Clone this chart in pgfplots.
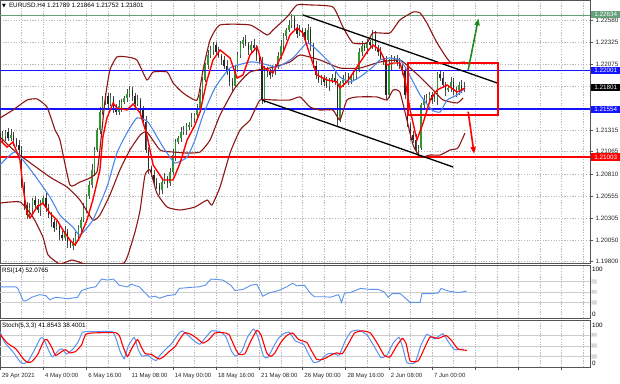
\documentclass[border=0pt]{standalone}
\usepackage{pgfplots}
\pgfplotsset{compat=1.18}
\usepackage{pgfplotstable}
\usepackage{fontspec}
\setmainfont{Liberation Sans}
\newfontfamily\symfont{DejaVu Sans}
\usetikzlibrary{arrows.meta}

\definecolor{bandred}{RGB}{140,22,22}
\definecolor{mablue}{RGB}{75,135,235}
\definecolor{rsiblue}{RGB}{90,145,235}
\definecolor{upgreen}{RGB}{50,150,50}
\definecolor{wickc}{RGB}{75,75,75}
\definecolor{gridc}{RGB}{185,185,185}
\definecolor{lvlgreen}{RGB}{100,160,120}
\definecolor{lvlblue}{RGB}{20,20,255}
\definecolor{framec}{RGB}{85,85,85}
\definecolor{lvlgray}{RGB}{205,205,205}
\definecolor{arrgreen}{RGB}{30,140,30}

\newcommand{\fs}{\fontsize{6.3}{7}\selectfont}

% bar index, open, high, low, close -- bullish candles
\pgfplotstableread{
b o h l c
1 1.21200 1.21303 1.21177 1.21246
2 1.21246 1.21315 1.21188 1.21292
4 1.21223 1.21326 1.21188 1.21257
11 1.20337 1.20475 1.20314 1.20418
12 1.20418 1.20533 1.20360 1.20510
15 1.20395 1.20510 1.20326 1.20475
16 1.20475 1.20556 1.20452 1.20533
21 1.20188 1.20268 1.20165 1.20211
24 1.20073 1.20211 1.20038 1.20142
27 1.19981 1.20073 1.19935 1.20015
28 1.20015 1.20142 1.19981 1.20096
29 1.20096 1.20222 1.20038 1.20188
30 1.20188 1.20314 1.20142 1.20280
31 1.20280 1.20475 1.20257 1.20418
32 1.20418 1.20579 1.20360 1.20556
33 1.20556 1.20728 1.20521 1.20682
34 1.20682 1.20924 1.20648 1.20855
35 1.20855 1.21119 1.20786 1.21085
36 1.21085 1.21338 1.21062 1.21315
37 1.21315 1.21579 1.21269 1.21522
38 1.21522 1.21706 1.21487 1.21660
39 1.21660 1.21741 1.21602 1.21706
41 1.21614 1.21741 1.21591 1.21683
44 1.21522 1.21660 1.21487 1.21591
45 1.21591 1.21672 1.21522 1.21637
46 1.21637 1.21706 1.21614 1.21683
47 1.21683 1.21787 1.21637 1.21729
48 1.21729 1.21821 1.21695 1.21775
51 1.21614 1.21718 1.21591 1.21660
60 1.20625 1.20751 1.20579 1.20717
61 1.20717 1.20820 1.20694 1.20763
63 1.20705 1.20878 1.20671 1.20832
64 1.20832 1.21096 1.20797 1.21027
65 1.21027 1.21212 1.20958 1.21177
66 1.21177 1.21246 1.21154 1.21223
67 1.21223 1.21349 1.21177 1.21292
68 1.21292 1.21361 1.21257 1.21315
69 1.21315 1.21395 1.21257 1.21361
70 1.21361 1.21407 1.21315 1.21372
71 1.21372 1.21510 1.21349 1.21453
72 1.21453 1.21510 1.21395 1.21487
73 1.21487 1.21614 1.21453 1.21568
74 1.21568 1.21787 1.21533 1.21718
75 1.21718 1.21925 1.21648 1.21890
76 1.21890 1.22086 1.21867 1.22063
77 1.22063 1.22235 1.22017 1.22178
78 1.22178 1.22281 1.22143 1.22235
79 1.22235 1.22327 1.22178 1.22293
87 1.21821 1.22051 1.21798 1.22005
88 1.22005 1.22212 1.21982 1.22178
89 1.22178 1.22339 1.22143 1.22304
90 1.22304 1.22385 1.22258 1.22350
93 1.22235 1.22339 1.22201 1.22293
98 1.21660 1.22051 1.21626 1.22005
101 1.21948 1.22063 1.21925 1.22005
102 1.22005 1.22074 1.21948 1.22051
103 1.22051 1.22212 1.22017 1.22166
104 1.22166 1.22350 1.22132 1.22281
105 1.22281 1.22431 1.22224 1.22396
106 1.22396 1.22488 1.22350 1.22465
107 1.22465 1.22580 1.22442 1.22523
108 1.22523 1.22649 1.22488 1.22603
111 1.22419 1.22523 1.22396 1.22465
114 1.22350 1.22534 1.22316 1.22465
119 1.21890 1.21948 1.21833 1.21913
122 1.21821 1.21913 1.21764 1.21890
123 1.21890 1.21959 1.21856 1.21913
126 1.21430 1.21879 1.21407 1.21856
127 1.21856 1.21948 1.21810 1.21890
128 1.21890 1.21982 1.21856 1.21936
130 1.21890 1.21959 1.21844 1.21913
131 1.21913 1.22005 1.21890 1.21948
132 1.21948 1.22028 1.21890 1.22005
133 1.22005 1.22258 1.21982 1.22212
134 1.22212 1.22339 1.22166 1.22281
136 1.22258 1.22362 1.22189 1.22327
138 1.22293 1.22465 1.22247 1.22408
144 1.21718 1.22132 1.21683 1.22063
145 1.22063 1.22178 1.21994 1.22143
155 1.21085 1.21142 1.21004 1.21108
156 1.21108 1.21626 1.21085 1.21602
157 1.21602 1.21718 1.21556 1.21660
158 1.21660 1.21729 1.21626 1.21683
159 1.21683 1.21752 1.21626 1.21718
161 1.21660 1.21718 1.21637 1.21672
162 1.21672 1.21982 1.21602 1.21959
166 1.21775 1.21821 1.21752 1.21798
167 1.21798 1.21925 1.21752 1.21867
169 1.21752 1.21810 1.21695 1.21775
170 1.21775 1.21867 1.21718 1.21833
172 1.21789 1.21864 1.21752 1.21801
}\upc

% bearish candles
\pgfplotstableread{
b o h l c
0 1.21280 1.21315 1.21154 1.21200
3 1.21292 1.21338 1.21188 1.21223
5 1.21257 1.21292 1.21131 1.21200
6 1.21200 1.21223 1.21119 1.21142
7 1.21142 1.21200 1.21039 1.21085
8 1.21085 1.21131 1.20648 1.20682
9 1.20682 1.20717 1.20395 1.20452
10 1.20452 1.20487 1.20291 1.20337
13 1.20510 1.20556 1.20418 1.20452
14 1.20452 1.20521 1.20360 1.20395
17 1.20533 1.20590 1.20372 1.20418
18 1.20418 1.20464 1.20303 1.20337
19 1.20337 1.20372 1.20199 1.20257
20 1.20257 1.20291 1.20142 1.20188
22 1.20211 1.20234 1.20050 1.20107
23 1.20107 1.20153 1.20038 1.20073
25 1.20142 1.20176 1.19958 1.20027
26 1.20027 1.20050 1.19958 1.19981
40 1.21706 1.21741 1.21568 1.21614
42 1.21683 1.21706 1.21510 1.21568
43 1.21568 1.21614 1.21487 1.21522
49 1.21775 1.21810 1.21648 1.21706
50 1.21706 1.21741 1.21568 1.21614
52 1.21660 1.21683 1.21487 1.21545
53 1.21545 1.21591 1.21372 1.21407
54 1.21407 1.21476 1.21050 1.21085
55 1.21085 1.21119 1.20809 1.20878
56 1.20878 1.20901 1.20774 1.20797
57 1.20797 1.20855 1.20671 1.20717
58 1.20717 1.20763 1.20636 1.20671
59 1.20671 1.20705 1.20567 1.20625
62 1.20763 1.20786 1.20648 1.20705
80 1.22293 1.22327 1.22166 1.22212
81 1.22212 1.22270 1.22143 1.22166
82 1.22166 1.22189 1.22063 1.22120
83 1.22120 1.22166 1.22017 1.22051
84 1.22051 1.22120 1.21948 1.21982
85 1.21982 1.22028 1.21821 1.21867
86 1.21867 1.21913 1.21752 1.21821
91 1.22350 1.22408 1.22281 1.22304
92 1.22304 1.22327 1.22178 1.22235
94 1.22293 1.22362 1.22224 1.22258
95 1.22258 1.22293 1.22109 1.22178
96 1.22178 1.22201 1.22074 1.22097
97 1.22097 1.22155 1.21614 1.21660
99 1.22005 1.22040 1.21925 1.21982
100 1.21982 1.22017 1.21902 1.21948
109 1.22603 1.22638 1.22454 1.22488
110 1.22488 1.22534 1.22373 1.22419
112 1.22465 1.22488 1.22385 1.22442
113 1.22442 1.22488 1.22316 1.22350
115 1.22465 1.22500 1.22224 1.22293
116 1.22293 1.22316 1.22028 1.22051
117 1.22051 1.22109 1.21902 1.21948
118 1.21948 1.21994 1.21856 1.21890
120 1.21913 1.21948 1.21821 1.21867
121 1.21867 1.21925 1.21798 1.21821
124 1.21913 1.21982 1.21833 1.21867
125 1.21867 1.21902 1.21361 1.21430
129 1.21936 1.21971 1.21833 1.21890
135 1.22281 1.22316 1.22224 1.22258
137 1.22327 1.22350 1.22270 1.22293
139 1.22408 1.22454 1.22224 1.22258
140 1.22258 1.22293 1.22166 1.22212
141 1.22212 1.22270 1.22120 1.22143
142 1.22143 1.22166 1.22063 1.22120
143 1.22120 1.22166 1.21660 1.21718
146 1.22143 1.22166 1.22097 1.22120
147 1.22120 1.22178 1.22051 1.22097
148 1.22097 1.22143 1.22017 1.22051
149 1.22051 1.22086 1.21948 1.22005
150 1.22005 1.22040 1.21672 1.21718
151 1.21718 1.21775 1.21349 1.21372
152 1.21372 1.21395 1.21200 1.21257
153 1.21257 1.21303 1.21165 1.21200
154 1.21200 1.21269 1.21050 1.21085
160 1.21718 1.21752 1.21614 1.21660
163 1.21959 1.22005 1.21879 1.21913
164 1.21913 1.21982 1.21798 1.21833
165 1.21833 1.21867 1.21706 1.21775
168 1.21867 1.21913 1.21718 1.21752
171 1.21833 1.21890 1.21741 1.21787
}\dnc

\pgfplotsset{
  mtpanel/.style={
    scale only axis, width=590pt, xmin=0, xmax=218.52,
    axis line style={draw=framec, line width=1pt},
    xtick={0,16,...,208}, minor xtick={8,24,...,216},
    xmajorgrids, xminorgrids,
    major grid style={draw=gridc, line width=0.5pt, dash pattern=on 1.2pt off 1.5pt},
    minor grid style={draw=gridc, line width=0.5pt, dash pattern=on 1.2pt off 1.5pt},
    ticklabel style={font=\fs, text=black!85},
    tick align=outside, major tick length=3pt, minor tick length=0pt,
    tick style={draw=framec, line width=0.5pt},
  },
  wick/.style={draw=none, mark=none, forget plot, error bars/.cd, y dir=both, y explicit, error mark=none,
    error bar style={draw=wickc, line width=0.55pt}},
}

\begin{document}
\begin{tikzpicture}
\path[use as bounding box] (0pt,0pt) rectangle (620pt,-383pt);

% ---------------- price panel ----------------
\begin{axis}[mtpanel, at={(0pt,0pt)}, anchor=north west, height=263pt,
  ymin=1.197855, ymax=1.2281,
  xticklabels={}, xtick style={draw=none},
  ytick={1.19800,1.20050,1.20305,1.20555,1.20810,1.21065,1.21315,1.21570,1.21820,1.22075,1.22325,1.22580},
  yticklabels={1.19800,1.20050,1.20305,1.20555,1.20810,1.21065,1.21315,{},{},1.22075,1.22325,1.22580},
  ytick pos=right, yticklabel pos=right, ymajorgrids,
  yticklabel style={xshift=-1pt}]

% candles: wicks
\addplot[wick] table[x=b, y expr={(\thisrow{h}+\thisrow{l})/2}, y error expr={(\thisrow{h}-\thisrow{l})/2}] {\upc};
\addplot[wick] table[x=b, y expr={(\thisrow{h}+\thisrow{l})/2}, y error expr={(\thisrow{h}-\thisrow{l})/2}] {\dnc};
% candles: bodies
\addplot[draw=none, mark=none, forget plot, error bars/.cd, y dir=both, y explicit, error mark=none,
  error bar style={draw=upgreen, line width=1.5pt}]
  table[x=b, y expr={(\thisrow{o}+\thisrow{c})/2}, y error expr={(\thisrow{c}-\thisrow{o})/2}] {\upc};
\addplot[draw=none, mark=none, forget plot, error bars/.cd, y dir=both, y explicit, error mark=none,
  error bar style={draw=black!85, line width=1.3pt}]
  table[x=b, y expr={(\thisrow{o}+\thisrow{c})/2}, y error expr={(\thisrow{o}-\thisrow{c})/2}] {\dnc};

% horizontal levels
\addplot[draw=lvlblue, line width=1.7pt, forget plot] coordinates {(0,1.21554) (218.52,1.21554)};
\addplot[draw=lvlblue, line width=1.7pt, forget plot] coordinates {(0,1.22001) (218.52,1.22001)};
\addplot[draw=lvlgreen, line width=1.6pt, forget plot] coordinates {(0,1.22634) (218.52,1.22634)};
\addplot[draw=red, line width=1.6pt, forget plot] coordinates {(0,1.21003) (218.52,1.21003)};

% bands (dark red)
\addplot[bandred, line width=1.1pt, smooth, tension=0.3] coordinates {
(0,1.21453) (4.8,1.21545) (10,1.21660) (13.7,1.21672) (17.4,1.21579) (20.4,1.21315) (22.2,1.21200) (25.9,1.20682) (29.6,1.20717) (33.3,1.20763) (35.9,1.20832) (37,1.21085) (38.9,1.21660) (40.7,1.22005) (43.3,1.22155) (47,1.22155) (50.7,1.22120) (54.4,1.21890) (56.7,1.21982) (61.9,1.21982) (64.1,1.21856) (67.8,1.21741) (73,1.21660) (75.2,1.22005) (77.8,1.22350) (81.5,1.22523) (92.6,1.22523) (98.9,1.22408) (101.1,1.22465) (106.3,1.22615) (110,1.22753) (114.8,1.22753) (123.3,1.22730) (127,1.22500) (130.7,1.22316) (135.9,1.22316) (138.1,1.22431) (144.4,1.22431) (148.1,1.22580) (153,1.22672) (155.6,1.22660) (158.1,1.22546) (161.9,1.22316) (166.7,1.22097) (172.2,1.22097)};
\addplot[bandred, line width=1.1pt, smooth, tension=0.3] coordinates {
(0,1.21234) (6.3,1.21050) (18.5,1.20774) (24.8,1.20660) (29.6,1.20510) (34.4,1.20280) (37,1.20337) (40.7,1.20568) (44.4,1.20855) (48.1,1.21085) (51.9,1.21257) (54.4,1.21292) (59.3,1.21085) (64.1,1.21062) (69.3,1.21050) (74.1,1.21062) (77.8,1.21200) (81.5,1.21487) (87,1.21798) (92.6,1.21982) (100,1.22028) (107.4,1.22097) (111.1,1.22178) (118.5,1.22120) (125.9,1.22028) (133.3,1.22028) (140.7,1.22097) (148.1,1.22120) (151.9,1.22028) (155.6,1.21925) (160.4,1.21775) (164.1,1.21660) (169.3,1.21626) (171.5,1.21683)};
\addplot[bandred, line width=1.1pt, smooth, tension=0.3] coordinates {
(0,1.20475) (7.4,1.20487) (12.2,1.20314) (15.9,1.20084) (17.8,1.19878) (22.2,1.19774) (26.7,1.19820) (32.6,1.19763) (40.7,1.19751) (45.9,1.19786) (47.4,1.19878) (50,1.20142) (51.9,1.20395) (53.7,1.20797) (55.6,1.20855) (58.1,1.20590) (61.9,1.20429) (66.7,1.20395) (72.2,1.20429) (76.7,1.20510) (78.5,1.20452) (81.5,1.20660) (85.2,1.21050) (88.9,1.21315) (92.6,1.21430) (96.3,1.21660) (101.1,1.21660) (107.4,1.21660) (111.1,1.21695) (114.8,1.21580) (118.5,1.21545) (123.3,1.21545) (125.9,1.21430) (128.5,1.21660) (132.2,1.21695) (139.6,1.21695) (143.3,1.21660) (145.6,1.21775) (148.1,1.21752) (150.7,1.21430) (153,1.21142) (155.6,1.21004) (159.3,1.21027) (163,1.21027) (166.7,1.21085) (169.6,1.21108) (172.2,1.21280)};

% slow MA (blue)
\addplot[mablue, line width=1.1pt, smooth, tension=0.3] coordinates {
(0,1.20913) (5.6,1.21062) (12.2,1.20821) (18.5,1.20544) (22.2,1.20337) (27,1.20199) (29.6,1.20107) (34.4,1.20280) (39.6,1.20660) (43.3,1.21050) (47,1.21280) (50.7,1.21453) (54.8,1.21407) (60.4,1.21119) (64.8,1.20936) (69.3,1.21004) (72.2,1.21200) (75.2,1.21487) (79.6,1.21798) (85.2,1.22028) (92.6,1.22097) (96.3,1.22086) (102.6,1.22040) (108.5,1.22143) (113.7,1.22316) (117.4,1.22235) (122.2,1.22086) (125.9,1.21925) (129.6,1.21867) (133.3,1.21925) (138.1,1.22040) (140.7,1.22120) (144.4,1.22143) (148.1,1.22120) (150.7,1.22005) (155.6,1.21718) (160,1.21545) (163,1.21522) (165.6,1.21660) (169.3,1.21718) (172.2,1.21798)};

% fast MA (red)
\addplot[red, line width=1.4pt] coordinates {
(0,1.21200) (2.6,1.21119) (4.8,1.21177) (7.4,1.20970) (8.5,1.20660) (10,1.20361) (11.1,1.20303) (13.7,1.20430) (15.9,1.20475) (18.5,1.20360) (21.1,1.20280) (23.3,1.20165) (25.9,1.20050) (27.8,1.19993) (29.6,1.20084) (32.2,1.20280) (34.4,1.20510) (37,1.20855) (38.1,1.21234) (39.6,1.21453) (41.9,1.21626) (43.3,1.21568) (47,1.21545) (49.3,1.21614) (51.9,1.21510) (54.4,1.21257) (56.7,1.20913) (60.4,1.20740) (64.1,1.20740) (66.7,1.20936) (69.3,1.21200) (72.2,1.21372) (74.1,1.21522) (76.7,1.21890) (78.9,1.22120) (81.5,1.22235) (85.2,1.22143) (87.8,1.21913) (90,1.21948) (92.6,1.22178) (95.2,1.22270) (97.4,1.22040) (101.1,1.21971) (104.8,1.22201) (107.4,1.22408) (110,1.22488) (112.2,1.22431) (114.8,1.22178) (117.4,1.21948) (121.1,1.21890) (124.8,1.21867) (125.9,1.21798) (128.5,1.21867) (132.2,1.22040) (135.9,1.22212) (138.1,1.22293) (140.7,1.22235) (143.3,1.22063) (145.6,1.22086) (148.1,1.22086) (150,1.21890) (151.9,1.21545) (154.4,1.21200) (156.7,1.21395) (159.3,1.21660) (161.9,1.21775) (165.6,1.21833) (169.3,1.21752) (172.2,1.21798)};

% channel lines
\addplot[black, line width=1.3pt] coordinates {(112.2,1.22638) (184.1,1.21856)};
\addplot[black, line width=1.3pt] coordinates {(97,1.21660) (167.8,1.20890)};

% rectangle
\addplot[red, line width=1.7pt, line cap=rect, line join=miter] coordinates {(151.1,1.22086) (184.4,1.22086) (184.4,1.21487) (151.1,1.21487) (151.1,1.22086)};

% arrows
\addplot[arrgreen, line width=1.6pt, -{Triangle[length=7pt,width=5pt]}] coordinates {(173.4,1.22005) (177.2,1.22600)};
\addplot[red, line width=1.6pt, -{Triangle[length=7pt,width=5pt]}] coordinates {(173.4,1.21526) (175.6,1.21040)};

\coordinate (lg) at (axis cs:218.52,1.22634);
\coordinate (lb1) at (axis cs:218.52,1.22001);
\coordinate (lk) at (axis cs:218.52,1.21801);
\coordinate (lb2) at (axis cs:218.52,1.21554);
\coordinate (lr) at (axis cs:218.52,1.21003);
\end{axis}

% ---------------- RSI panel ----------------
\begin{axis}[mtpanel, at={(0pt,-265pt)}, anchor=north west, height=53pt,
  ymin=0, ymax=102, ytick=\empty, xticklabels={}, xtick style={draw=none}]
\addplot[lvlgray, line width=0.8pt, forget plot] coordinates {(0,30) (218.52,30)};
\addplot[lvlgray, line width=0.8pt, forget plot] coordinates {(0,50) (218.52,50)};
\addplot[lvlgray, line width=0.8pt, forget plot] coordinates {(0,70) (218.52,70)};
\addplot[rsiblue, line width=0.9pt] coordinates {
(0,60) (5.9,60) (6.6,57) (8.6,33) (9.6,33) (11.8,40) (14.7,45) (17,43) (18.4,35) (20.6,40) (23.6,38) (25.1,37) (28.8,40) (30.2,53) (33.2,58) (35.4,60) (37.6,75) (39.8,73) (42,75) (44.2,63) (47.2,60) (48.7,65) (51.6,60) (55.3,40) (57.5,42) (59,38) (61.9,43) (64.9,45) (66.4,57) (70.8,59) (73.7,60) (76,63) (78.2,75) (82.6,73) (85.5,63) (87,53) (90,55) (92.9,63) (95.1,65) (97.3,42) (99.6,48) (103.2,53) (106.2,60) (108.4,67) (109.9,62) (112.8,63) (115,47) (116.5,41) (119.5,41) (122.4,40) (125.4,45) (126.5,30) (127.6,48) (129.8,49) (133.5,57) (137.2,55) (140.1,55) (142.3,50) (143.8,40) (145.3,47) (148.2,47) (150.4,37) (151.9,30) (155.6,30) (156.3,47) (159.3,47) (162.2,48) (163.4,57) (165.9,52) (169.6,49) (171.1,50) (172.9,52)};
\end{axis}

% ---------------- Stochastic panel ----------------
\begin{axis}[mtpanel, at={(0pt,-320pt)}, anchor=north west, height=47pt,
  ymin=-8, ymax=122, ytick=\empty, xtick pos=bottom,
  xticklabels={29 Apr 2021,4 May 00:00,6 May 16:00,11 May 08:00,14 May 00:00,18 May 16:00,21 May 08:00,26 May 00:00,28 May 16:00,2 Jun 08:00,7 Jun 00:00,{},{},{}},
  xticklabel style={anchor=north west, xshift=-1.5pt, font=\fontsize{6}{7}\selectfont}]
\addplot[lvlgray, line width=0.8pt, forget plot] coordinates {(0,20) (218.52,20)};
\addplot[lvlgray, line width=0.8pt, forget plot] coordinates {(0,50) (218.52,50)};
\addplot[lvlgray, line width=0.8pt, forget plot] coordinates {(0,80) (218.52,80)};
\addplot[rsiblue, line width=1pt, smooth, tension=0.3] coordinates {
(0,90) (1.7,60) (4.7,35) (7.6,5) (9.1,2) (10.6,10) (12.8,40) (15,72) (16.2,70) (18,38) (19.4,20) (21.7,38) (23.1,42) (24.6,28) (26.8,40) (29,62) (30.5,88) (32.7,90) (37.1,90) (41.6,90) (43,70) (44.5,35) (46,15) (47.5,50) (49.7,74) (51.2,40) (52.6,22) (54.8,25) (56.3,15) (57.8,10) (59.3,25) (61.5,42) (63.7,58) (65.9,82) (67.4,92) (69.6,80) (71.8,65) (74,55) (76.2,74) (78.4,92) (81.4,90) (83.6,76) (85.8,35) (87.3,22) (89.5,35) (91.7,75) (93.9,97) (95.4,78) (97.6,22) (99.1,18) (100.6,38) (102.8,68) (105,84) (107.2,88) (109.4,64) (112.4,55) (113.8,35) (116.1,5) (118.3,8) (121.2,28) (123.4,30) (125.6,25) (127.9,65) (130.1,90) (133,94) (136,80) (138.9,45) (141.1,18) (143.3,25) (145.6,58) (147.8,74) (149.2,45) (150.7,4) (153.7,4) (155.9,52) (158.1,82) (161,70) (164,84) (166.2,60) (168.4,40) (171.7,42)};
\addplot[red, line width=1.1pt, smooth, tension=0.3] coordinates {
(0,82) (2.9,57) (5.9,42) (8.8,13) (10.3,5) (11.8,7) (14,27) (16.2,64) (17.4,68) (19.2,46) (20.6,24) (22.9,35) (24.3,40) (25.8,31) (28,35) (30.2,53) (31.7,82) (33.9,86) (38.3,87) (42.8,87) (44.2,79) (45.7,46) (47.2,21) (48.7,42) (50.9,68) (52.4,46) (53.8,29) (56,27) (57.5,20) (59,14) (60.5,20) (62.7,35) (64.9,49) (67.1,75) (68.6,87) (70.8,82) (73,71) (75.2,58) (77.4,68) (79.6,86) (82.6,87) (84.8,82) (87,46) (88.5,27) (90.7,29) (92.9,64) (95.1,93) (96.6,82) (98.8,31) (100.3,21) (101.8,31) (104,60) (106.2,79) (108.4,86) (110.6,68) (113.6,60) (115,42) (117.3,13) (119.5,13) (122.4,24) (124.6,31) (126.8,29) (129.1,57) (131.3,86) (134.2,92) (137.2,86) (140.1,53) (142.3,24) (144.5,20) (146.8,49) (149,71) (150.4,57) (151.9,9) (154.9,9) (157.1,42) (159.3,75) (162.2,71) (165.2,79) (167.4,64) (169.6,42) (172.9,38)};
\end{axis}

% ---------------- labels ----------------
\node[anchor=west, inner sep=0pt, font=\fs] at (2pt,-5.5pt) {{\symfont\fontsize{5}{6}\selectfont ▼}\hspace{3pt}EURUSD.H4 1.21789 1.21864 1.21752 1.21801};
\node[anchor=west, inner sep=0pt, font=\fs] at (2pt,-270.5pt) {RSI(14) 52.0765};
\node[anchor=west, inner sep=0pt, font=\fs] at (2pt,-326pt) {Stoch(5,3,3) 41.8543 38.4001};

\tikzset{pricebox/.style={anchor=west, text=white, font=\fs, inner sep=0.4pt, minimum width=29pt, minimum height=7.4pt}}
\node[pricebox, fill=lvlgreen] at ([xshift=1pt,yshift=0.8pt]lg) {1.22634};
\node[pricebox, fill=lvlblue] at ([xshift=1pt]lb1) {1.22001};
\node[pricebox, fill=black] at ([xshift=1pt]lk) {1.21801};
\node[pricebox, fill=lvlblue] at ([xshift=1pt]lb2) {1.21554};
\node[pricebox, fill=red] at ([xshift=1pt]lr) {1.21003};

% indicator scale labels
\node[anchor=west, inner sep=0pt, font=\fs] at (592pt,-269pt) {100};
\node[anchor=west, inner sep=0pt, font=\fs] at (592pt,-314pt) {0};
\node[anchor=west, inner sep=0pt, font=\fs] at (592pt,-325pt) {100};
\node[anchor=west, inner sep=0pt, font=\fs] at (592pt,-363pt) {0};
\tikzset{lvlbox/.style={anchor=west, fill=gray!18, text=gray!55, inner sep=0.6pt, font=\fontsize{4.5}{5}\selectfont}}
\node[lvlbox] at (591pt,-281.6pt) {70};
\node[lvlbox] at (591pt,-292pt) {50};
\node[lvlbox] at (591pt,-302.5pt) {30};
\node[lvlbox] at (591pt,-335pt) {80};
\node[lvlbox] at (591pt,-345.5pt) {50};
\node[lvlbox] at (591pt,-356.5pt) {20};
\end{tikzpicture}
\end{document}
